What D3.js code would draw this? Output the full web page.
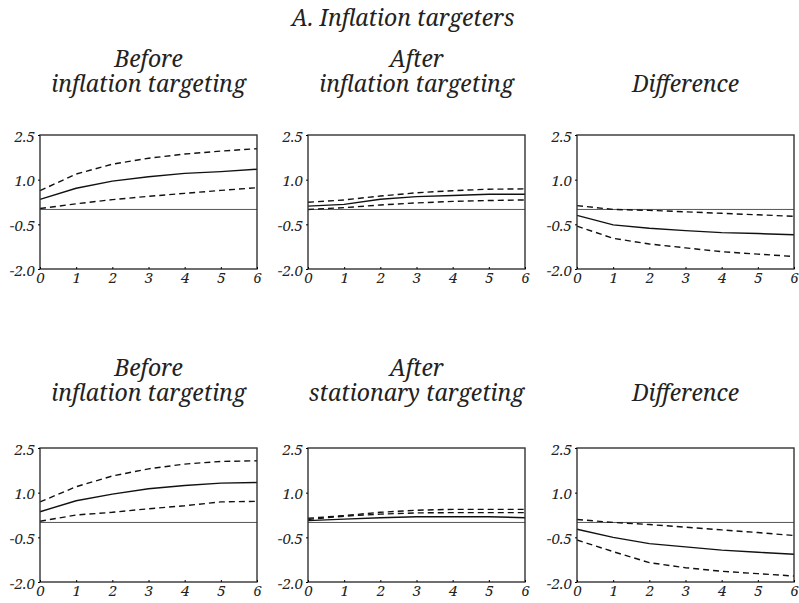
<!DOCTYPE html>
<html>
<head>
<meta charset="utf-8">
<script src="https://cdn.jsdelivr.net/npm/d3@7"></script>
</head>
<body style="margin:0; background:#fff">
<div id="chart"></div>
<script>
let horizons = [0, 1, 2, 3, 4, 5, 6];
let yTicks = [-2.0, -0.5, 1.0, 2.5];
let yDomain = [-2.0, 2.5];

let mainTitle = "A. Inflation targeters";
let panelTitles = [
    ["Before", "inflation targeting"], ["After", "inflation targeting"], ["Difference"],
    ["Before", "inflation targeting"], ["After", "stationary targeting"], ["Difference"]
];

// top row: before / after inflation targeting / difference
let beforeMid = [0.34, 0.71, 0.95, 1.10, 1.21, 1.27, 1.35];
let beforeHi  = [0.63, 1.19, 1.52, 1.72, 1.86, 1.96, 2.04];
let beforeLo  = [0.03, 0.19, 0.33, 0.44, 0.54, 0.64, 0.73];

let afterMid = [0.11, 0.17, 0.34, 0.43, 0.47, 0.51, 0.51];
let afterHi  = [0.24, 0.32, 0.45, 0.56, 0.63, 0.68, 0.69];
let afterLo  = [0.00, 0.06, 0.15, 0.22, 0.27, 0.30, 0.32];

let diffMid = [-0.20, -0.52, -0.63, -0.71, -0.78, -0.81, -0.85];
let diffHi  = [0.13, 0.00, -0.03, -0.08, -0.13, -0.18, -0.23];
let diffLo  = [-0.56, -0.97, -1.16, -1.29, -1.42, -1.50, -1.58];

// bottom row: before / after stationary targeting / difference
let before2Mid = [0.36, 0.73, 0.95, 1.13, 1.24, 1.32, 1.34];
let before2Hi  = [0.69, 1.20, 1.56, 1.80, 1.96, 2.05, 2.07];
let before2Lo  = [0.04, 0.25, 0.34, 0.46, 0.56, 0.69, 0.71];

let after2Mid = [0.06, 0.11, 0.16, 0.19, 0.19, 0.19, 0.16];
let after2Hi  = [0.14, 0.23, 0.34, 0.41, 0.44, 0.44, 0.44];
let after2Lo  = [0.10, 0.21, 0.28, 0.32, 0.33, 0.33, 0.33];

let diff2Mid = [-0.23, -0.50, -0.71, -0.82, -0.93, -1.00, -1.07];
let diff2Hi  = [0.10, 0.00, -0.07, -0.16, -0.25, -0.34, -0.44];
let diff2Lo  = [-0.59, -0.98, -1.35, -1.52, -1.64, -1.72, -1.80];

let panels = [
    [beforeMid, beforeHi, beforeLo], [afterMid, afterHi, afterLo], [diffMid, diffHi, diffLo],
    [before2Mid, before2Hi, before2Lo], [after2Mid, after2Hi, after2Lo], [diff2Mid, diff2Hi, diff2Lo]
];

let width = 799, height = 603;
let colLeft = [40, 308, 577];
let rowTop = [135, 448];
let rowTitle = [92, 401];
let panelW = 217, panelH = 134;
let font = "Noto Serif";

let svg = d3.select("#chart").append("svg")
    .attr("width", width)
    .attr("height", height);

svg.append("text")
    .attr("x", 403)
    .attr("y", 26)
    .attr("text-anchor", "middle")
    .attr("font-family", font)
    .attr("font-style", "italic")
    .attr("font-size", 23)
    .attr("fill", "#222")
    .text(mainTitle);

let x = d3.scaleLinear().domain([0, 6]).range([0, panelW]);
let y = d3.scaleLinear().domain(yDomain).range([panelH, 0]);

let line = d3.line()
    .x((d, i) => x(horizons[i]))
    .y(d => y(d));

panels.forEach((series, p) => {
    let col = p % 3, row = Math.floor(p / 3);
    let g = svg.append("g")
        .attr("transform", "translate(" + colLeft[col] + "," + rowTop[row] + ")");

    // panel title, one or two lines, last line sits on the common baseline
    let lines = panelTitles[p];
    lines.forEach((t, k) => {
        svg.append("text")
            .attr("x", colLeft[col] + panelW / 2)
            .attr("y", rowTitle[row] - (lines.length - 1 - k) * 25)
            .attr("text-anchor", "middle")
            .attr("font-family", font)
            .attr("font-style", "italic")
            .attr("font-size", 23)
            .attr("fill", "#222")
            .text(t);
    });

    // zero line
    g.append("line")
        .attr("x1", 0).attr("x2", panelW)
        .attr("y1", y(0)).attr("y2", y(0))
        .attr("stroke", "#555")
        .attr("stroke-width", 1);

    // point estimate (solid) and bands (dashed)
    series.forEach((s, k) => {
        g.append("path")
            .datum(s)
            .attr("d", line)
            .attr("fill", "none")
            .attr("stroke", "#111")
            .attr("stroke-width", 1.4)
            .attr("stroke-dasharray", k == 0 ? null : "6,4");
    });

    // frame
    g.append("rect")
        .attr("width", panelW)
        .attr("height", panelH)
        .attr("fill", "none")
        .attr("stroke", "#333")
        .attr("stroke-width", 1.4);

    let yAxis = d3.axisLeft(y).tickValues(yTicks).tickSize(2).tickPadding(3).tickFormat(d3.format(".1f"));
    let yg = g.append("g").call(yAxis);
    yg.select(".domain").remove();
    yg.selectAll("text")
        .attr("font-family", font).attr("font-style", "italic")
        .attr("font-size", 15).attr("fill", "#222")
        .attr("x", -5).attr("dy", "0.4em");

    let xAxis = d3.axisBottom(x).tickValues(horizons).tickSize(-2).tickPadding(3).tickFormat(d3.format("d"));
    let xg = g.append("g").attr("transform", "translate(0," + panelH + ")").call(xAxis);
    xg.select(".domain").remove();
    xg.selectAll("text")
        .attr("font-family", font).attr("font-style", "italic")
        .attr("font-size", 15).attr("fill", "#222");
});
</script>
</body>
</html>
